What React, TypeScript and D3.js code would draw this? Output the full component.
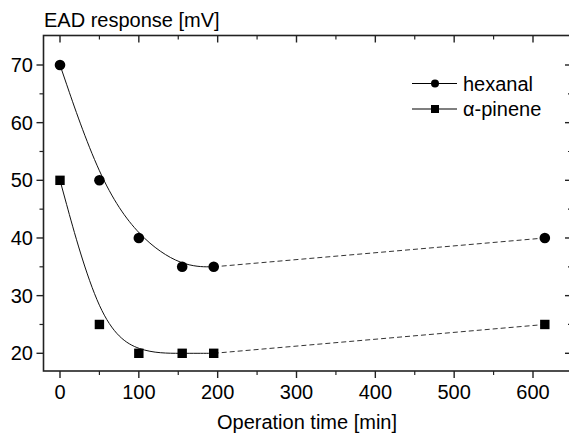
import React from "react";
import * as d3 from "d3";

const times = [0, 50, 100, 155, 195, 615];
const hexanal = [70, 50, 40, 35, 35, 40];
const pinene = [50, 25, 20, 20, 20, 25];
const xTicks = [0, 100, 200, 300, 400, 500, 600];
const yTicks = [20, 30, 40, 50, 60, 70];
const yMinor = [25, 35, 45, 55, 65];
const xMinor = [50, 150, 250, 350, 450, 550];
const seriesNames = ["hexanal", "\u03b1-pinene"];

const W = 569;
const H = 439;
const boxL = 43.5, boxR = 572, boxT = 35.5, boxB = 371;
const FONT = "Liberation Sans, Arial, sans-serif";
const FS = 20;

export default function App() {
  const x = d3.scaleLinear().domain([0, 600]).range([60, 533]);
  const y = d3.scaleLinear().domain([20, 70]).range([353.3, 65]);

  const fit = d3
    .line<[number, number]>()
    .x((d) => x(d[0]))
    .y((d) => y(d[1]))
    .curve(d3.curveBasis);
  const straight = d3
    .line<[number, number]>()
    .x((d) => x(d[0]))
    .y((d) => y(d[1]));

  const series = [hexanal, pinene];

  return (
    <svg
      width={W}
      height={H}
      style={{ position: "absolute", left: 0, top: 0, background: "#fff" }}
      fontFamily={FONT}
    >
      <rect x={0} y={0} width={W} height={H} fill="#fff" />
      {series.map((s, si) => {
        const pts = times.slice(0, 5).map((t, i) => [t, s[i]] as [number, number]);
        const tail = times.slice(4).map((t, i) => [t, s[i + 4]] as [number, number]);
        return (
          <g key={si}>
            <path d={fit(pts) || ""} fill="none" stroke="#111" strokeWidth={1} />
            <path
              d={straight(tail) || ""}
              fill="none"
              stroke="#333"
              strokeWidth={1}
              strokeDasharray="5,3"
            />
          </g>
        );
      })}
      {times.map((t, i) => (
        <circle key={"c" + i} cx={x(t)} cy={y(hexanal[i])} r={5.3} fill="#000" />
      ))}
      {times.map((t, i) => (
        <rect
          key={"s" + i}
          x={x(t) - 4.7}
          y={y(pinene[i]) - 4.7}
          width={9.4}
          height={9.4}
          fill="#000"
        />
      ))}
      <rect
        x={boxL}
        y={boxT}
        width={boxR - boxL}
        height={boxB - boxT}
        fill="none"
        stroke="#222"
        strokeWidth={1.6}
      />
      {xTicks.map((t) => (
        <g key={"xt" + t}>
          <line x1={x(t)} x2={x(t)} y1={boxB} y2={boxB + 7} stroke="#222" strokeWidth={1.4} />
          <line x1={x(t)} x2={x(t)} y1={boxT} y2={boxT + 7} stroke="#222" strokeWidth={1.4} />
          <text x={x(t)} y={399} textAnchor="middle" fontSize={FS} fill="#000">
            {t}
          </text>
        </g>
      ))}
      {xMinor.map((t) => (
        <g key={"xm" + t}>
          <line x1={x(t)} x2={x(t)} y1={boxB} y2={boxB + 4} stroke="#222" strokeWidth={1.2} />
          <line x1={x(t)} x2={x(t)} y1={boxT} y2={boxT + 4} stroke="#222" strokeWidth={1.2} />
        </g>
      ))}
      {yTicks.map((t) => (
        <g key={"yt" + t}>
          <line x1={boxL - 7} x2={boxL} y1={y(t)} y2={y(t)} stroke="#222" strokeWidth={1.4} />
          <line x1={boxR - 7} x2={boxR} y1={y(t)} y2={y(t)} stroke="#222" strokeWidth={1.4} />
          <text x={33} y={y(t) + 7} textAnchor="end" fontSize={FS} fill="#000">
            {t}
          </text>
        </g>
      ))}
      {yMinor.map((t) => (
        <g key={"ym" + t}>
          <line x1={boxL - 4} x2={boxL} y1={y(t)} y2={y(t)} stroke="#222" strokeWidth={1.2} />
          <line x1={boxR - 4} x2={boxR} y1={y(t)} y2={y(t)} stroke="#222" strokeWidth={1.2} />
        </g>
      ))}
      <text x={44} y={27} fontSize={FS} fill="#000">
        EAD response [mV]
      </text>
      <text x={307} y={429} textAnchor="middle" fontSize={FS} fill="#000">
        Operation time [min]
      </text>
      {seriesNames.map((n, i) => {
        const ly = 83.5 + i * 25.5;
        return (
          <g key={n}>
            <line x1={412} x2={457} y1={ly} y2={ly} stroke="#000" strokeWidth={1.2} />
            {i === 0 ? (
              <circle cx={435} cy={ly} r={4} fill="#000" />
            ) : (
              <rect x={431} y={ly - 4} width={8} height={8} fill="#000" />
            )}
            <text x={463} y={ly + 7} fontSize={FS} fill="#000">
              {n}
            </text>
          </g>
        );
      })}
    </svg>
  );
}
